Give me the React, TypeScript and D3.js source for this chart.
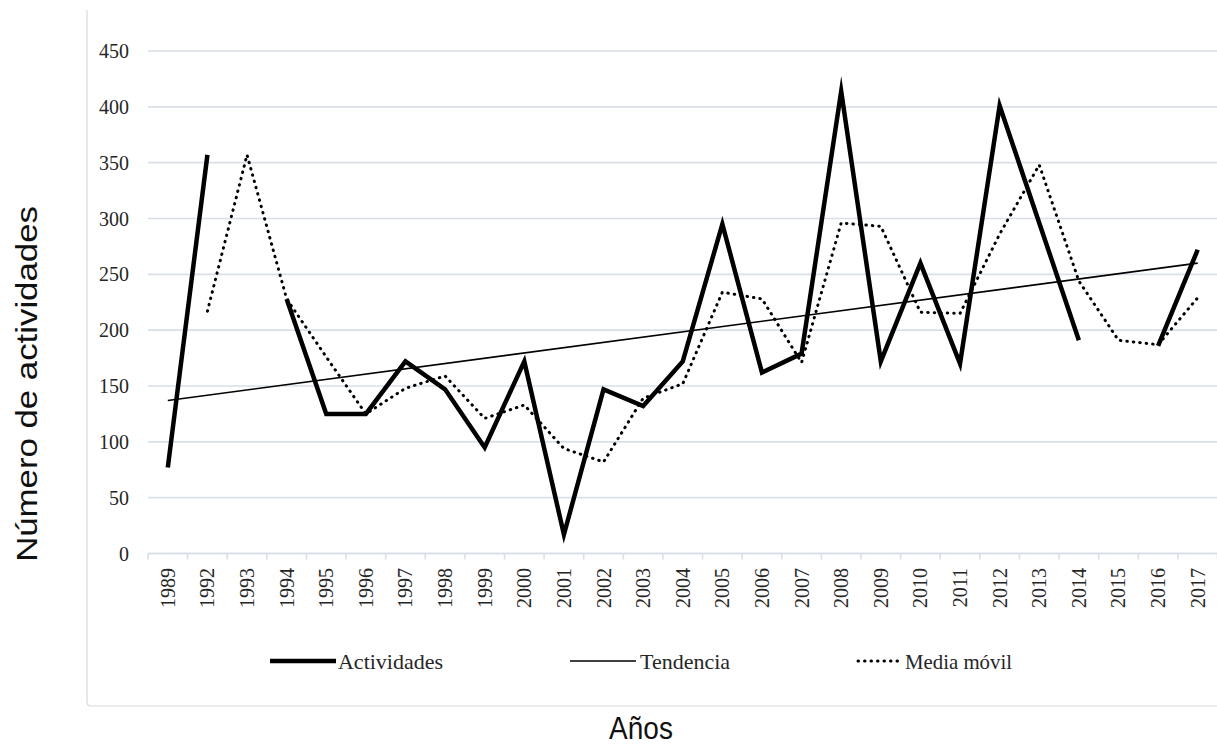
import React from "react";
import * as d3 from "d3";

const categories = ["1989","1992","1993","1994","1995","1996","1997","1998","1999","2000","2001","2002","2003","2004","2005","2006","2007","2008","2009","2010","2011","2012","2013","2014","2015","2016","2017"];
const actividades: (number | null)[] = [77, 357, null, 228, 125, 125, 172, 147, 95, 172, 17, 147, 132, 172, 295, 162, 179, 414, 172, 260, 170, 401, 296, 191, null, 186, 272];
const mediaMovil: (number | null)[] = [null, 217, 357, 228, 176, 125, 148, 159, 121, 133, 94, 82, 139, 152, 234, 228, 171, 296, 293, 216, 215, 286, 348, 244, 191, 187, 229];
const tendencia: [string, number][] = [["1989", 137], ["2017", 260]];
const yTicks = [0, 50, 100, 150, 200, 250, 300, 350, 400, 450];
const legendItems = ["Actividades", "Tendencia", "Media móvil"];

const W = 1217, H = 746;
const GRID = "#d9dfe9";
const SERIF = "'Liberation Serif', 'Times New Roman', serif";
const SANS = "'Liberation Sans', Arial, sans-serif";

export default function App() {
  const x = d3.scaleBand<string>().domain(categories).range([148, 1217.5]).padding(0);
  const y = d3.scaleLinear().domain([0, 450]).range([553.5, 51]);
  const cx = (c: string) => (x(c) as number) + x.bandwidth() / 2;

  const lineAct = d3.line<number | null>()
    .defined((d) => d != null)
    .x((_, i) => cx(categories[i]))
    .y((d) => y(d as number));
  const lineMed = d3.line<number | null>()
    .defined((d) => d != null)
    .x((_, i) => cx(categories[i]))
    .y((d) => y(d as number));
  const lineTrend = d3.line<[string, number]>()
    .x((d) => cx(d[0]))
    .y((d) => y(d[1]));

  const boundaries = categories.map((c) => x(c) as number).concat([x.range()[1]]);
  const legendX = [270, 570, 858];
  const DOTS = "0.5 6";

  return (
    <div style={{ position: "absolute", left: 0, top: 0 }}>
      <svg width={W} height={H} style={{ display: "block", background: "#fff" }}>
        {/* frame */}
        <path d={`M87,10 V702 Q87,706 91,706 H${W}`} fill="none" stroke="#d9d9d9" strokeWidth={1.2} />
        {/* gridlines */}
        {yTicks.filter((t) => t > 0).map((t) => (
          <line key={t} x1={148} x2={1217} y1={y(t)} y2={y(t)} stroke={GRID} strokeWidth={1.6} />
        ))}
        {/* x axis */}
        <line x1={148} x2={1217} y1={y(0)} y2={y(0)} stroke={GRID} strokeWidth={1.8} />
        {boundaries.map((b, i) => (
          <line key={i} x1={b} x2={b} y1={y(0)} y2={y(0) + 6} stroke={GRID} strokeWidth={1.6} />
        ))}
        {/* y tick labels */}
        {yTicks.map((t) => (
          <text key={t} x={129} y={y(t)} dy="0.35em" textAnchor="end" fontFamily={SERIF} fontSize={20} fill="#262626">{t}</text>
        ))}
        {/* x tick labels */}
        {categories.map((c) => (
          <text key={c} transform={`translate(${cx(c)},568) rotate(-90)`} dy="0.35em" textAnchor="end" fontFamily={SERIF} fontSize={20} fill="#262626">{c}</text>
        ))}
        {/* series */}
        <path d={lineTrend(tendencia) || ""} fill="none" stroke="#000" strokeWidth={1.6} />
        <path d={lineMed(mediaMovil) || ""} fill="none" stroke="#000" strokeWidth={3} strokeLinecap="round" strokeDasharray={DOTS} />
        <path d={lineAct(actividades) || ""} fill="none" stroke="#000" strokeWidth={4.5} strokeLinejoin="miter" strokeMiterlimit={10} />
        {/* legend */}
        <line x1={legendX[0]} x2={legendX[0] + 66} y1={661} y2={661} stroke="#000" strokeWidth={4.5} />
        <line x1={legendX[1]} x2={legendX[1] + 66} y1={661} y2={661} stroke="#000" strokeWidth={1.6} />
        <line x1={legendX[2]} x2={legendX[2] + 44} y1={661} y2={661} stroke="#000" strokeWidth={3} strokeLinecap="round" strokeDasharray={DOTS} />
        <text x={338} y={669} fontFamily={SERIF} fontSize={22} textLength={105} lengthAdjust="spacingAndGlyphs" fill="#262626">{legendItems[0]}</text>
        <text x={640} y={669} fontFamily={SERIF} fontSize={22} textLength={90} lengthAdjust="spacingAndGlyphs" fill="#262626">{legendItems[1]}</text>
        <text x={905} y={669} fontFamily={SERIF} fontSize={22} textLength={107} lengthAdjust="spacingAndGlyphs" fill="#262626">{legendItems[2]}</text>
        {/* axis titles */}
        <text transform="translate(641,739) scale(1,1.1)" textAnchor="middle" fontFamily={SANS} fontSize={28} fill="#111">Años</text>
        <text transform="translate(37,384) rotate(-90) scale(1.2,1)" textAnchor="middle" fontFamily={SANS} fontSize={29} fill="#111">Número de actividades</text>
      </svg>
    </div>
  );
}
